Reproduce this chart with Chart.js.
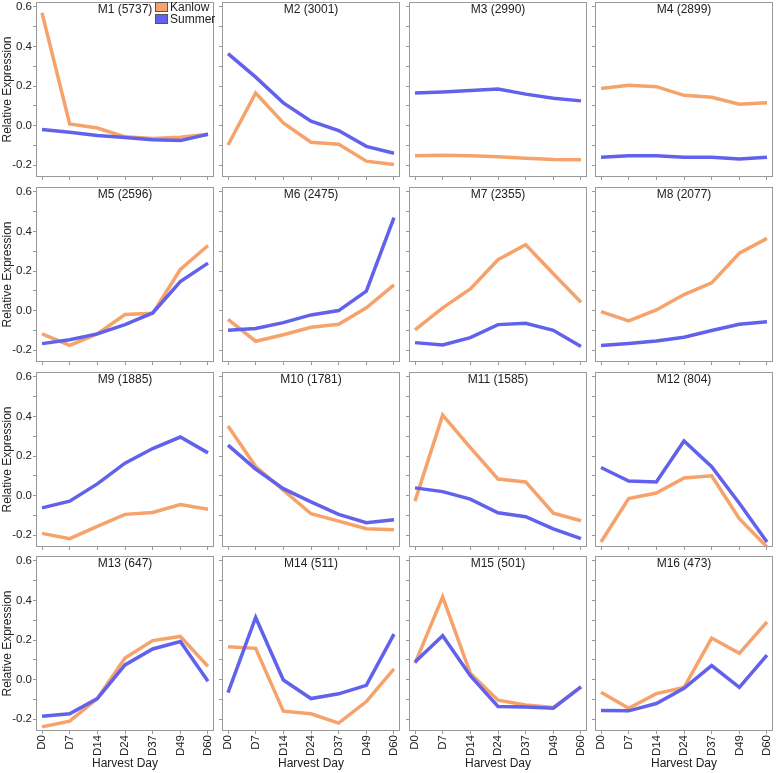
<!DOCTYPE html>
<html>
<head>
<meta charset="utf-8">
<script src="https://cdn.jsdelivr.net/npm/chart.js@4.4.1/dist/chart.umd.min.js"></script>
<style>
  body { margin: 0; background: #fff; width: 777px; height: 773px; position: relative; overflow: hidden;
         font-family: "Liberation Sans", Arial, sans-serif; }
  canvas { position: absolute; }
  #legend { position: absolute; left: 155px; top: 1px; z-index: 5; font-size: 12px; color: #222; }
  #legend .item { height: 12px; display: flex; align-items: center; white-space: nowrap; }
  #legend .sw { display: inline-block; width: 11px; height: 8px; border: 1px solid #555; margin-right: 2px; }
</style>
</head>
<body>
<div id="legend">
  <div class="item"><span class="sw" id="swKanlow"></span>Kanlow</div>
  <div class="item"><span class="sw" id="swSummer"></span>Summer</div>
</div>
<script>
// 収穫日（x軸）
const days = ["D0", "D7", "D14", "D24", "D37", "D49", "D60"];
// モジュール名と遺伝子数
const moduleNames = ["M1", "M2", "M3", "M4", "M5", "M6", "M7", "M8",
  "M9", "M10", "M11", "M12", "M13", "M14", "M15", "M16"];
const geneCounts = [5737, 3001, 2990, 2899, 2596, 2475, 2355, 2077,
  1885, 1781, 1585, 804, 647, 511, 501, 473];

// Kanlow の相対発現量（モジュールごと）
const kanlow = [
  [0.57, 0.008, -0.012, -0.057, -0.065, -0.059, -0.044],
  [-0.098, 0.165, 0.013, -0.084, -0.094, -0.18, -0.197],
  [-0.152, -0.15, -0.153, -0.157, -0.165, -0.172, -0.173],
  [0.187, 0.204, 0.197, 0.153, 0.143, 0.108, 0.116],
  [-0.118, -0.176, -0.118, -0.02, -0.014, 0.208, 0.329],
  [-0.044, -0.155, -0.122, -0.084, -0.069, 0.014, 0.13],
  [-0.098, 0.014, 0.11, 0.257, 0.333, 0.186, 0.042],
  [-0.005, -0.052, 0.003, 0.081, 0.14, 0.29, 0.365],
  [-0.191, -0.218, -0.156, -0.095, -0.085, -0.045, -0.069],
  [0.352, 0.147, 0.028, -0.092, -0.129, -0.168, -0.173],
  [-0.028, 0.407, 0.243, 0.084, 0.069, -0.089, -0.127],
  [-0.235, -0.015, 0.013, 0.089, 0.1, -0.117, -0.26],
  [-0.239, -0.21, -0.096, 0.109, 0.197, 0.218, 0.067],
  [0.166, 0.158, -0.16, -0.173, -0.22, -0.111, 0.054],
  [0.082, 0.418, 0.032, -0.104, -0.128, -0.141, -0.037],
  [-0.064, -0.145, -0.071, -0.04, 0.21, 0.133, 0.292],
];

// Summer の相対発現量（モジュールごと）
const summer = [
  [-0.02, -0.034, -0.05, -0.06, -0.072, -0.076, -0.044],
  [0.364, 0.245, 0.115, 0.022, -0.025, -0.105, -0.14],
  [0.165, 0.17, 0.177, 0.185, 0.159, 0.138, 0.125],
  [-0.16, -0.153, -0.153, -0.16, -0.16, -0.169, -0.16],
  [-0.167, -0.147, -0.118, -0.071, -0.012, 0.147, 0.24],
  [-0.1, -0.091, -0.061, -0.022, 0, 0.098, 0.47],
  [-0.162, -0.174, -0.137, -0.071, -0.064, -0.1, -0.182],
  [-0.176, -0.166, -0.154, -0.135, -0.101, -0.069, -0.056],
  [-0.062, -0.028, 0.059, 0.164, 0.238, 0.296, 0.216],
  [0.255, 0.134, 0.035, -0.032, -0.095, -0.137, -0.122],
  [0.039, 0.02, -0.018, -0.087, -0.107, -0.168, -0.218],
  [0.142, 0.074, 0.069, 0.276, 0.146, -0.039, -0.235],
  [-0.185, -0.173, -0.096, 0.074, 0.155, 0.192, -0.008],
  [-0.066, 0.314, -0.002, -0.096, -0.072, -0.029, 0.23],
  [0.089, 0.222, 0.02, -0.136, -0.139, -0.145, -0.037],
  [-0.156, -0.158, -0.121, -0.044, 0.071, -0.039, 0.124],
];

const kanlowColor = "#F5A36A";
const summerColor = "#6161EC";
const axisGray = "#9a9a9a";

document.getElementById("swKanlow").style.background = kanlowColor;
document.getElementById("swSummer").style.background = summerColor;

Chart.defaults.font.family = '"Liberation Sans", Arial, sans-serif';
Chart.defaults.color = "#222";

// パネルの位置
const colLeft = [36, 222, 409, 595];
const rowTop = [2, 187, 372, 556];
const panelW = 178;
const panelH = 175;

// 枠線とパネルタイトルを描くプラグイン
const panelFrame = {
  id: "panelFrame",
  afterDatasetsDraw(chart, args, opts) {
    const a = chart.chartArea;
    const ctx = chart.ctx;
    ctx.save();
    ctx.strokeStyle = axisGray;
    ctx.lineWidth = 1;
    ctx.strokeRect(a.left + 0.5, a.top + 0.5, a.right - a.left - 1, a.bottom - a.top - 1);
    ctx.fillStyle = "#222";
    ctx.font = '12px "Liberation Sans", Arial, sans-serif';
    ctx.textAlign = "center";
    ctx.textBaseline = "alphabetic";
    ctx.fillText(opts.text, (a.left + a.right) / 2, a.top + 11);
    ctx.restore();
  },
};

for (let i = 0; i < moduleNames.length; i++) {
  const r = Math.floor(i / 4);
  const c = i % 4;
  const leftSpace = c === 0 ? 36 : 4;
  const bottomSpace = r === 3 ? 42 : 4;

  const canvas = document.createElement("canvas");
  canvas.width = leftSpace + panelW;
  canvas.height = panelH + bottomSpace;
  canvas.style.left = colLeft[c] - leftSpace + "px";
  canvas.style.top = rowTop[r] + "px";
  document.body.appendChild(canvas);

  new Chart(canvas, {
    type: "line",
    data: {
      datasets: [
        {
          label: "Summer",
          data: summer[i].map((v, j) => ({ x: j, y: v })),
          borderColor: summerColor,
          borderWidth: 3.5,
          pointRadius: 0,
          order: 0,
        },
        {
          label: "Kanlow",
          data: kanlow[i].map((v, j) => ({ x: j, y: v })),
          borderColor: kanlowColor,
          borderWidth: 3.5,
          pointRadius: 0,
          order: 1,
        },
      ],
    },
    options: {
      responsive: false,
      animation: false,
      devicePixelRatio: 1,
      events: [],
      layout: { padding: 0 },
      plugins: {
        legend: { display: false },
        tooltip: { enabled: false },
        panelFrame: { text: moduleNames[i] + " (" + geneCounts[i] + ")" },
      },
      scales: {
        x: {
          type: "linear",
          min: -0.217,
          max: 6.217,
          grid: { drawOnChartArea: false, drawTicks: true, tickLength: 3, color: axisGray, tickColor: axisGray },
          border: { display: false },
          ticks: {
            stepSize: 1,
            includeBounds: false,
            autoSkip: false,
            minRotation: 90,
            maxRotation: 90,
            padding: 1,
            font: { size: 11.5 },
            callback: (v) => (r === 3 ? days[v] : ""),
          },
          title: {
            display: r === 3,
            text: "Harvest Day",
            font: { size: 12 },
            padding: { top: 0, bottom: 2 },
          },
          afterFit: (s) => {
            s.height = bottomSpace;
            s.paddingLeft = 0;
            s.paddingRight = 0;
          },
        },
        y: {
          min: -0.26,
          max: 0.625,
          grid: { drawOnChartArea: false, drawTicks: true, tickLength: 3, color: axisGray, tickColor: axisGray },
          border: { display: false },
          ticks: {
            stepSize: 0.1,
            includeBounds: false,
            autoSkip: false,
            padding: 1,
            font: { size: 11.5 },
            callback: (v) => {
              const k = Math.round(v * 10);
              return c === 0 && k % 2 === 0 ? (k / 10).toFixed(1) : "";
            },
          },
          title: {
            display: c === 0,
            text: "Relative Expression",
            font: { size: 12 },
            padding: { top: 0, bottom: 0 },
          },
          afterFit: (s) => {
            s.width = leftSpace;
            s.paddingTop = 0;
            s.paddingBottom = 0;
          },
        },
      },
    },
    plugins: [panelFrame],
  });
}
</script>
</body>
</html>
